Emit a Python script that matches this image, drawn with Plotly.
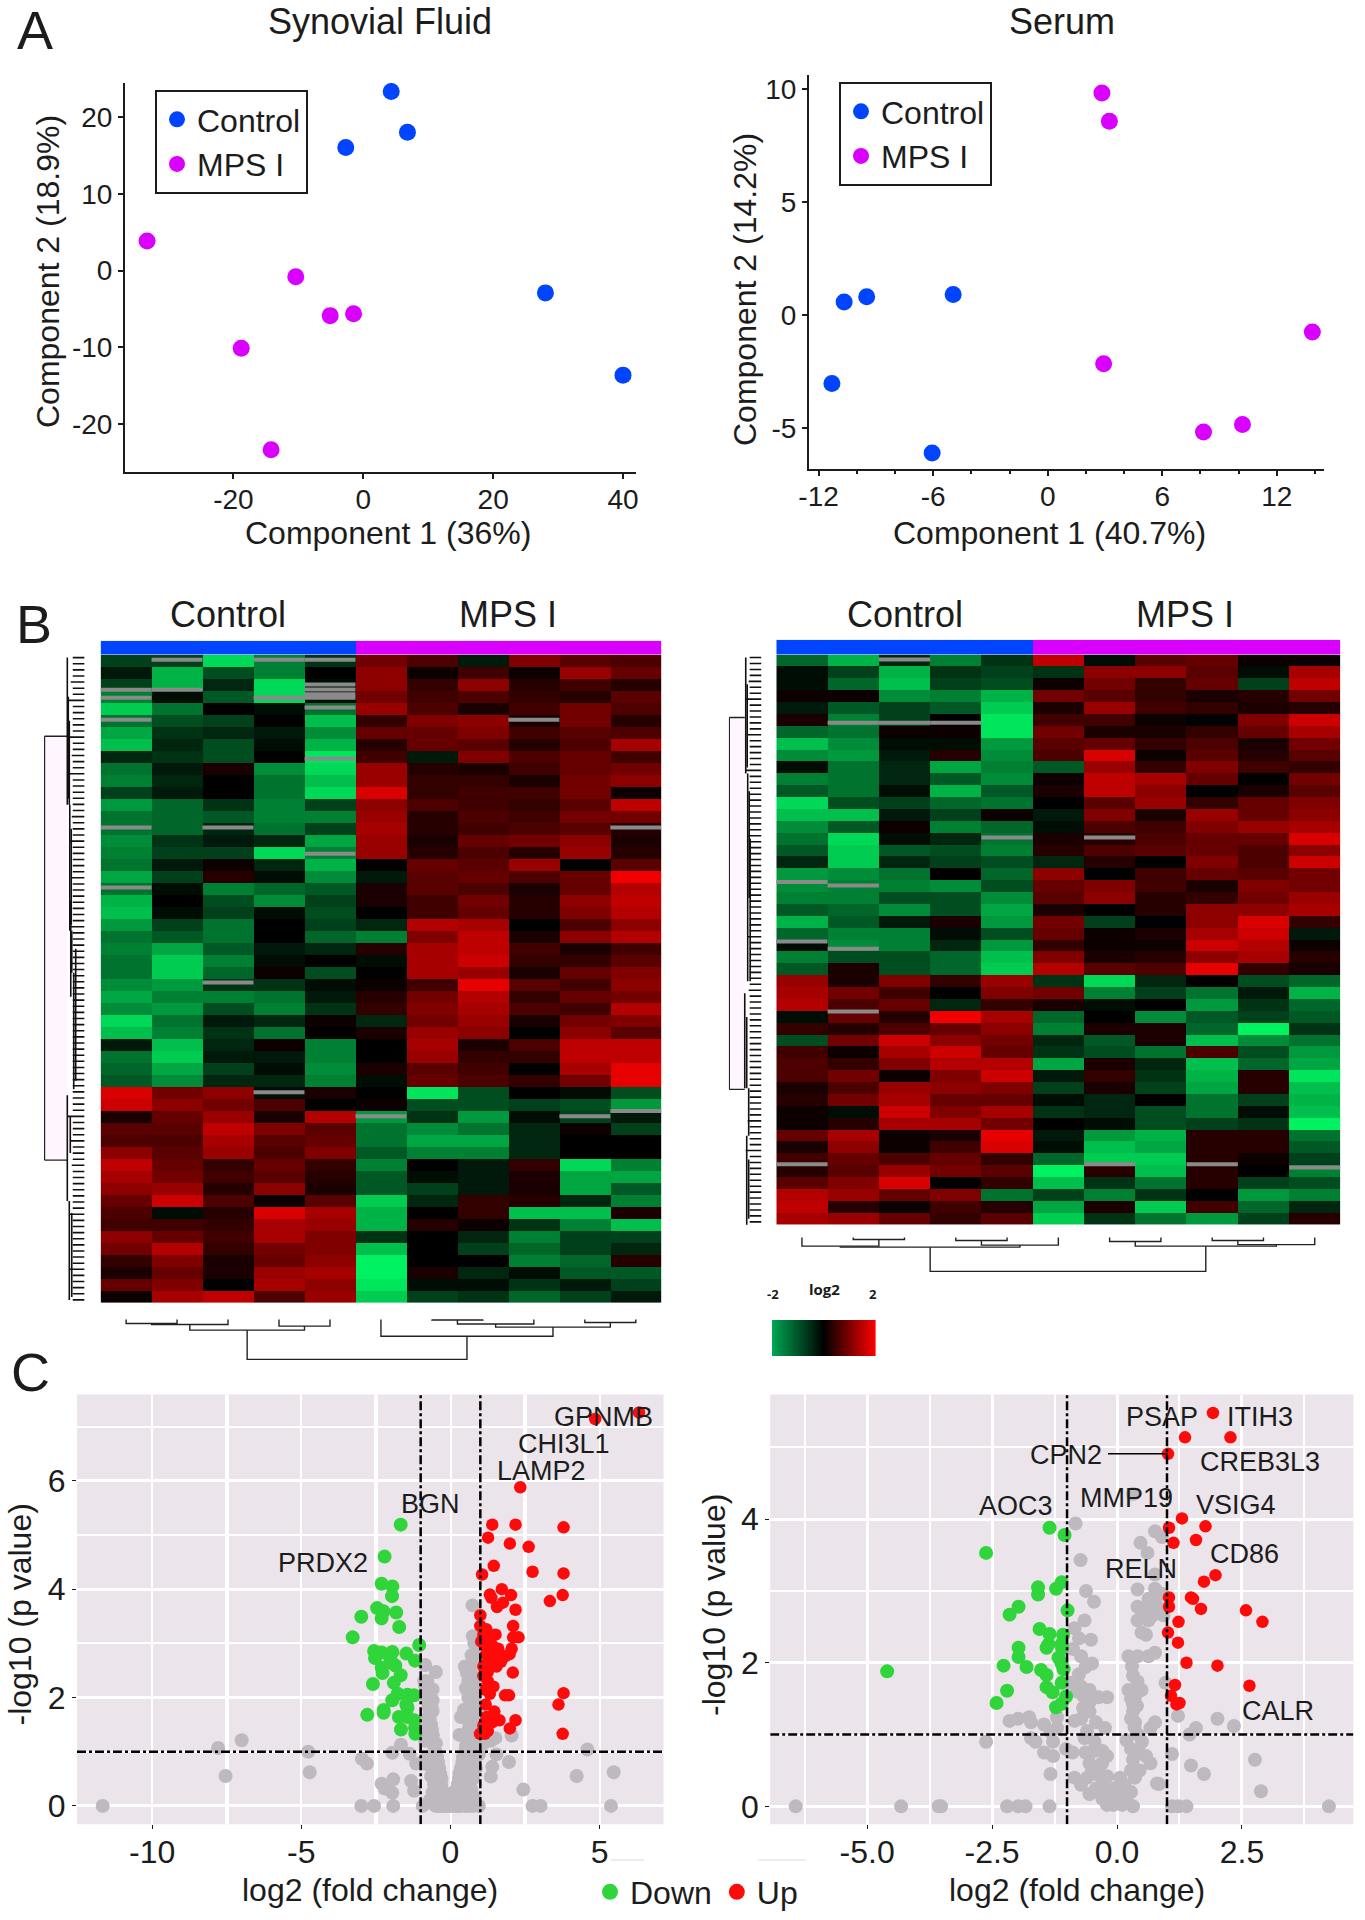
import plotly.graph_objects as go

W, H = 1365, 1920
FONT = "Liberation Sans"
INK = "#1c1c1c"
BLUE, MAG = "#0044FF", "#D900FF"
GREEN, RED, GREY = "#2FD53A", "#FF0A0A", "#BDB9BF"

# ---------- A: PCA ----------
sf_control_x = [4.3, 6.8, -2.7, 28.05, 40.0]
sf_control_y = [23.3, 18.0, 16.0, -2.9, -13.6]
sf_mps_x = [-33.3, -10.4, -5.1, -1.5, -18.8, -14.2]
sf_mps_y = [3.86, -0.8, -5.86, -5.63, -10.1, -23.3]
se_control_x = [-4.95, -9.48, -10.66, -11.3, -6.05]
se_control_y = [0.92, 0.82, 0.59, -3.02, -6.09]
se_mps_x = [2.84, 3.23, 2.93, 13.86, 10.2, 8.16]
se_mps_y = [9.83, 8.58, -2.14, -0.74, -4.83, -5.16]

# ---------- B: heatmaps (log2, 11 samples per row) ----------
heat_left = [
[-.5,-.5,-1.7,-1.0,-.4,.9,.6,-.2,1.0,.7,.6],
[-.2,-1.4,-.6,-1.0,.0,1.1,.1,.5,.1,1.2,.8],
[-.5,-1.4,-.3,-1.7,-.1,1.1,.4,1.1,.3,.5,.3],
[-1.0,-.1,-.7,-1.7,-.1,.9,.5,.6,.4,.3,.7],
[-1.6,-.9,.0,-.1,-.9,1.2,.6,.2,.5,.9,.6],
[-.9,-.6,-.5,.0,-1.5,.4,1.0,1.1,.2,.9,.3],
[-1.3,-.4,-.3,-.2,-1.1,.8,.8,1.0,.5,.7,.6],
[-1.5,-.3,-.6,-.1,-1.4,.3,.8,.7,.3,.6,1.3],
[-.3,-.4,-.6,.0,-1.8,.5,-.2,1.0,.6,.8,.5],
[-.9,-.2,.2,-1.1,-1.7,1.2,.3,.2,.5,.8,.9],
[-1.0,-.3,.0,-.9,-1.5,1.2,.4,.4,.2,.9,1.1],
[-.5,-.2,.0,-.9,-1.7,1.7,.4,.5,.5,.9,.1],
[-1.2,-.8,-.4,-1.0,-.5,1.1,.6,.5,.4,.7,1.5],
[-.9,-.8,-.7,-1.0,-1.0,1.2,.3,.6,.5,.9,.9],
[-.9,-.8,-.3,-.9,-.5,1.3,.3,.5,.6,.7,.3],
[-1.1,-.4,-.2,-.3,-1.3,1.2,.2,.8,.9,1.1,.2],
[-1.0,-.5,-.5,-1.7,-1.0,1.2,.3,.6,.3,1.2,.3],
[-.9,-.2,.1,-.3,-1.4,.0,.8,.7,1.2,.0,.7],
[-1.3,-.5,.3,-.1,-1.1,-.2,.7,.8,.6,.8,1.9],
[-.9,-.1,-1.0,-.8,-.7,.2,.7,.6,.2,.8,1.4],
[-1.4,.0,-.6,-1.1,-.5,.2,.5,.9,.3,1.1,1.5],
[-1.5,-.1,-.5,-.1,-.6,.0,.5,.8,.3,1.0,1.4],
[-1.2,-.5,-.9,.0,-.5,-.3,1.4,1.3,.0,.6,1.1],
[-.9,-.7,-.9,.0,-.8,-1.0,1.0,1.5,.2,1.1,1.4],
[-1.0,-1.3,-.7,-.2,-.3,.3,1.3,1.5,.5,.2,.5],
[-.9,-1.6,-1.0,-.1,.0,-.1,1.3,1.6,.4,.4,.7],
[-.9,-1.6,-.8,.1,-.6,.0,1.3,1.2,.2,.8,1.0],
[-1.1,-1.2,-.4,-.4,-.1,.1,.5,1.8,.7,.5,1.1],
[-1.3,-1.0,-1.0,-.9,-.2,.3,.9,1.4,.4,.8,.9],
[-1.1,-1.2,-.6,-1.0,-.4,.4,1.0,1.3,.6,.5,1.4],
[-1.7,-.9,-.2,-.3,.1,-.3,.9,1.2,.2,.9,1.0],
[-1.5,-1.0,-.4,-.9,.0,.2,1.2,1.1,.0,1.1,.7],
[-.2,-1.5,-.3,.1,-1.0,.0,1.3,.2,.6,1.5,1.5],
[-.9,-1.6,-.2,-.2,-1.0,.0,1.2,.4,.4,1.5,1.5],
[-.8,-1.3,-.5,-.1,-1.1,.2,.7,.5,.0,1.3,1.8],
[-.7,-1.1,-.3,-.3,-1.0,-.1,.8,.6,.4,.9,1.8],
[1.7,.9,1.1,-.1,.2,.0,-1.8,-.6,.0,-.1,-.6],
[1.6,1.1,.9,.6,.0,.1,-.6,-.6,-.5,-.6,-1.2],
[.2,.8,1.2,.2,1.4,-1.2,-.4,-1.2,-.1,-.5,-.2],
[.7,.7,1.5,1.0,.7,-.9,-1.1,-.9,-.3,.1,-.5],
[.6,.6,1.3,.7,.8,-.9,-1.3,-1.3,-.3,.0,.0],
[1.1,.7,1.2,.6,1.0,-.7,-1.0,-1.0,-.3,.0,.0],
[1.5,.8,.4,.8,.4,-1.0,.0,-.2,.4,-1.7,-1.0],
[1.3,.9,.5,.7,.3,-.7,-.1,-.2,.2,-1.3,-1.3],
[1.1,1.2,.3,1.1,.2,-.7,-.5,-.2,.2,-1.3,-.7],
[.8,1.6,.6,.1,.7,-1.6,-.3,.4,.3,-.3,-1.0],
[.6,-.1,.3,1.7,1.3,-1.4,.0,.4,-1.5,-1.5,.2],
[.5,.5,.4,1.3,1.2,-1.4,.3,.1,-.4,-1.0,-1.5],
[1.1,.8,.5,1.3,1.0,-.4,.0,-.3,-1.0,-.5,-.5],
[.9,1.4,.4,.9,1.0,-1.5,.0,-.5,-.8,-.5,-.3],
[.4,1.0,.2,.8,1.1,-1.9,.0,.0,-1.0,-.8,.3],
[.2,.8,.2,1.2,1.3,-1.9,.2,-.3,-.1,-.7,-.7],
[.8,1.0,.0,1.3,1.1,-1.8,-.1,-.1,-.4,-.2,-.5],
[.1,1.3,1.5,.6,1.2,-1.6,-.5,-.4,-.8,-.5,-.2],
]
heat_right = [
[-.8,-1.4,-.3,-1.0,-.4,1.5,-.1,.7,.8,.1,.1],
[-.1,-.5,-1.4,-.4,-.5,-.4,1.1,1.1,.7,-.1,1.3],
[-.1,-.8,-1.5,-.5,-.6,.1,.9,.4,.8,-.5,1.5],
[.1,.1,-1.1,-1.0,-1.4,.9,.7,.4,.2,.3,.9],
[-.2,-.7,-.5,-.7,-1.6,.2,1.2,.5,.4,.2,.3],
[.2,-1.0,-.5,.0,-1.8,.5,.5,.1,.0,1.0,1.6],
[-.8,-.9,.1,.1,-1.8,.9,.2,.2,.4,.8,1.3],
[-1.5,-1.1,-.1,-.1,-1.2,.7,.8,.4,.6,.2,.9],
[-1.1,-1.2,-.2,.3,-1.1,.6,1.7,.1,.7,.3,.7],
[-.1,-.9,-.3,-1.3,-1.0,-.7,1.2,.4,1.0,.5,.4],
[-1.0,-.9,-.3,-.7,-1.1,.1,1.5,1.3,.8,.0,.9],
[-.7,-.9,-.1,-1.4,-.7,.2,1.5,1.1,.0,.2,.7],
[-1.7,-.6,-.5,-.8,-.9,.0,.7,1.2,.4,.8,1.0],
[-1.5,-1.5,-.2,-.5,.1,-.2,1.0,.2,1.2,.8,1.1],
[-1.1,-.7,.1,-1.0,-.8,-.1,.6,.5,1.0,1.2,1.3],
[-.9,-1.7,-.1,-.3,-.9,.2,.3,.6,.8,.8,1.7],
[-.7,-1.6,-.7,-.6,-1.0,.3,.6,.7,.8,.6,1.1],
[-.3,-1.6,-.3,-.5,-.6,-.3,.3,.0,1.0,.6,1.6],
[-1.2,-1.1,-.9,.0,-.8,1.1,.0,.5,.8,.7,.9],
[-1.1,-1.0,-1.0,-1.1,-.6,.8,1.0,.5,.2,1.0,.9],
[-1.0,-1.0,-.6,-.6,-1.1,.7,1.1,.3,.4,.9,1.2],
[-.7,-.8,-1.1,-.6,-1.3,.2,.0,.3,1.1,1.1,1.3],
[-1.4,-.7,-.2,.2,-1.2,.9,-.5,.0,1.1,1.7,.4],
[-.8,-1.0,-1.0,-.1,-.6,.8,.1,.2,1.3,1.6,-.2],
[-.1,-1.1,-1.0,-.3,-1.2,.4,.1,.1,1.6,1.4,.1],
[-1.0,-.6,-.6,-.8,-1.5,1.0,.2,.3,1.1,1.3,.3],
[-.7,.2,-.6,-.8,-1.6,1.4,.7,.6,1.8,.4,.2],
[1.2,.2,1.0,.4,1.2,-.4,-1.7,-.3,.0,-.6,-.8],
[1.3,.9,.5,.0,1.0,.9,-1.0,-.5,-.9,-.2,-1.4],
[1.4,.6,.8,-.3,.4,.2,-.1,.0,-1.2,-.4,-.8],
[-.1,.8,.3,1.9,1.3,-.8,.0,-1.1,-.7,-.5,-.7],
[.4,.3,.6,.8,1.1,-1.0,.2,.2,-.8,-1.9,-.4],
[-.6,.9,1.6,1.1,.9,-.3,-.7,.2,-1.5,-1.1,-.9],
[.5,.1,1.3,1.6,.8,-.4,-.6,-.9,.6,-.6,-1.2],
[.6,.4,1.0,1.4,1.4,-1.3,.2,-.3,-1.5,-.8,-1.3],
[.6,.9,.1,1.0,1.6,-.2,.4,-.4,-1.4,.3,-1.8],
[.2,.6,1.2,1.1,1.0,-.5,.2,-.5,-1.3,.3,-1.5],
[.3,.9,1.3,.8,.8,-.1,-.3,.0,-.9,-.5,-1.4],
[.1,-.1,1.6,1.0,1.3,-.4,-.3,-.6,-.9,-.1,-1.5],
[.1,.3,1.3,1.3,.9,.0,-.1,-.6,-.5,-.4,-1.9],
[.8,1.3,.1,.2,1.8,-.2,-1.2,-1.4,.3,.3,-.9],
[.2,1.1,.1,.5,1.7,-.1,-1.5,-1.3,.3,.3,-.7],
[.5,.8,.6,.8,.4,-.8,-1.6,-1.6,.3,.1,-.5],
[.3,.7,1.2,.9,.7,-1.9,.3,-1.5,.3,.0,-1.0],
[.7,1.0,1.7,.0,.4,-1.5,-.4,-.9,.3,-.5,-.6],
[1.4,1.2,.8,1.0,-.9,-.5,-1.0,-.4,.0,-1.2,-1.0],
[1.5,.3,.1,.5,.3,-1.3,.2,-1.6,.5,-.8,-.3],
[1.3,1.2,.8,.4,.7,-1.6,-.4,-.9,-1.2,-.5,.3],
]
# missing cells (grey): sample column, row position
miss_left_col = [1,3,4,0,1,4,4,4,4,0,3,4,0,8,4,0,2,10,4,0,2,3,5,9,10]
miss_left_row = [-.08,-.08,-.08,2.42,2.42,2.0,2.4,2.8,3.1,3.1,3.1,3.9,4.92,4.92,8.17,13.9,13.9,13.9,16.08,18.89,26.8,35.94,37.94,37.94,37.5]
miss_right_col = [2,1,2,3,4,6,0,1,0,1,1,0,6,8,10]
miss_right_row = [-.08,5.23,5.23,5.23,14.9,14.9,18.65,18.93,23.65,24.26,29.54,42.4,42.4,42.4,42.68]
group_bar = [0,0,0,0,0,1,1,1,1,1,1]
log2_scale = [-2,-1.5,-1,-.5,0,.5,1,1.5,2]

# column dendrograms: (left, right, height); integers are leaves, strings are nodes
col_left = {"a":(0,1,8),"b":("a",2,10),"c":(3,4,13),"ctrl":("b","c",21),
            "m1":(6,7,1),"m2":("m1",8,9),"m3":(9,10,6),"m4":("m2","m3",15),"m5":(5,"m4",33),
            "root":("ctrl","m5",79)}
col_right = {"n1":(1,2,4),"n2":(0,"n1",17),"n3":(3,4,6),"n4":("n3",5,15),"n5":("n2","n4",19),
             "m1":(6,7,8),"m2":(8,9,6),"m3":("m2",10,14),"m4":("m1","m3",17),"root":("n5","m4",67)}
# row dendrograms: leaf stem lengths and spines (row from, row to, distance)
stems_left = [8,5,11,7,14,6,9,17,5,12,8,6,10,15,7,5,13,9,6,17,8,11,5,7,
              10,6,13,8,5,9,15,7,11,6,8,5,14,9,6,12,7,5,10,8,15,
              6,9,5,11,7,13,6,
              8,5,10,6,11,7,9,5,8,11,6,9,5,7,10,6,8,11,
              9,6,12,5,8,17,7,5,10,14,6,9,5,13,7,11,8,6,
              7,5,10,15,6,9,5,12,7,8,5,11,15,6,9,5,7,10]
spine_left = [(-.25,12,17.5),(12,22.5,15),(22.5,26,13),(26,35.7,11),(36.2,45,17.5),(45,53.25,15.5),
              (3,11.5,16.5),(38,41,14.5),(6.3,6.3,17.5),(20,28,14),(41.6,41.6,17.5),(5,12,15.5),(14,22,13.5),(24,35,9),(46,53,13)]
root_left = (6.3,41.6,40.6)
stems_right = [7,4,10,6,13,5,8,16,4,11,7,5,9,14,6,4,12,8,5,16,7,10,4,6,
               9,5,12,7,4,8,14,6,10,5,7,4,11,8,5,9,6,4,8,5,
               7,4,10,14,5,8,4,11,6,7,4,9,13,5,8,4,10,6,7,12,4,8,5,9,
               6,4,8,12,5,7,4,10,6,9,14,5,7,4,8,16,5,9,4,7,6,10,4,8,5,7,4,6]
spine_right = [(-.25,9.5,16),(9.5,27,14),(15,27,11.5),(28,36,17),(40,47.75,15),(36,40,13),
               (4.8,4.8,16),(36.1,36.1,17),(2,9,14.5),(11,20,12.5),(30,36,15),(42,47,13)]
root_right = (4.8,36.1,32.7)

# ---------- C: volcano plots (log2 FC, -log10 p) ----------
vl_up = [(4.85,7.14),(6.32,7.26),(2.34,5.88),(1.4,5.19),(2.18,5.19),(3.79,5.14),(1.26,4.95),(1.99,4.84),(2.62,4.78),
 (1.45,4.43),(1.06,4.27),(2.75,4.32),(3.79,4.29),(1.32,3.9),(1.72,4.0),(2.03,3.89),(1.37,3.84),(3.76,3.89),(3.33,3.78),
 (1.76,3.75),(1.56,3.67),(2.18,3.62),(1.0,3.52),(2.1,3.32),(1.0,3.32),(1.2,3.26),(1.51,3.16),(2.1,3.11),(2.28,3.11),
 (1.1,3.16),(1.29,3.06),(1.03,3.03),(1.18,2.96),(1.4,2.96),(2.05,2.9),(1.32,2.86),(1.61,2.8),(1.98,2.8),(1.83,2.76),
 (1.47,2.73),(1.69,2.66),(1.25,2.66),(1.1,2.57),(1.54,2.57),(2.09,2.46),(1.25,2.47),(1.1,2.4),(1.25,2.3),(1.44,2.2),
 (1.18,2.14),(1.32,2.07),(1.83,2.04),(1.96,2.04),(3.79,2.08),(3.62,1.87),(1.18,1.87),(1.47,1.74),(1.2,1.64),(2.18,1.58),
 (1.64,1.58),(1.4,1.54),(1.99,1.43),(1.1,1.48),(1.25,1.38),(.99,1.33),(3.76,1.33),(1.15,1.33),(1.3,2.6),(1.6,2.9),(1.2,2.8)]
vl_down = [(-1.67,5.19),(-2.21,4.6),(-2.31,4.1),(-1.95,4.05),(-1.96,3.87),(-2.46,3.65),(-2.24,3.59),(-1.82,3.57),(-2.99,3.49),
 (-2.31,3.46),(-1.72,3.3),(-3.28,3.11),(-1.05,2.97),(-2.56,2.86),(-2.31,2.83),(-1.95,2.84),(-1.48,2.81),(-2.53,2.73),
 (-2.02,2.73),(-1.19,2.68),(-1.95,2.63),(-1.85,2.59),(-2.31,2.55),(-2.28,2.45),(-1.67,2.41),(-2.6,2.25),(-1.9,2.27),
 (-1.77,2.07),(-1.44,2.05),(-1.22,2.04),(-1.95,1.95),(-1.48,1.87),(-2.24,1.77),(-1.44,1.81),(-2.24,1.72),(-2.79,1.68),
 (-1.73,1.64),(-1.44,1.64),(-1.22,1.58),(-1.66,1.41),(-1.19,1.44),(-1.18,1.33)]
vl_grey = [(-11.66,0),(-7.54,.55),(-7.79,1.07),(-7.0,1.21),(-4.77,1.0),(-4.72,.62),(-2.99,0),(-2.56,0),(-1.92,0),(-2.97,.87),
 (-2.8,.78),(-2.31,.41),(-1.92,.49),(-2.21,.32),(-1.95,.24),(-1.95,.98),(-1.66,1.13),(-1.37,.96),(-1.32,.46),(-1.22,.28),
 (2.44,.3),(2.75,0),(3.02,0),(5.38,0),(5.47,.62),(4.23,.55),(4.59,1.04),(1.96,.81),(2.05,1.3),(1.4,.72),(1.35,.54),(1.54,.95),
 (.74,0),(-.05,0),(-.15,.05),(-.2,.12),(-.25,.2),(-.28,.3),(-.32,.4),(-.3,.5),(-.35,.6),(-.38,.7),(-.42,.8),(-.45,.9),(-.5,1.0),
 (-.55,1.1),(-.6,1.2),(-.6,1.3),(-.62,1.4),(-.65,1.5),(-.7,1.6),(-.68,1.7),(-.72,1.8),(-.75,1.9),(-.8,2.0),(-.82,2.1),(-.85,2.2),
 (-.88,2.3),(-.85,2.6),(-.49,2.47),(-.78,2.3),(-.78,2.04),(-.64,1.85),(-.71,1.64),(-.6,1.31),(-.49,1.15),(-.93,0),(-1.15,.78),
 (-.93,.78),(-.85,1.2),(-.8,.9),(-.7,.75),(-.65,.55),(-.55,.4),(-.6,.25),(-.7,.1),(-.45,.08),
 (-.6,1.75),(-.6,1.95),(-.6,2.15),(-.7,2.0),(-.65,1.3),(-.8,1.4),(-.85,1.6),(-.55,.9),(-.6,.7),
 (.05,0),(.15,0),(.25,0),(.35,0),(.5,0),(.6,0),(-.3,0),(-.4,0),(-.5,0),(-.2,0),(-.1,0),(.1,.1),(-.1,.1),(.2,.15),(-.25,.1),(.3,.1),
 (-.35,.15),(.12,.25),(-.3,.25),(.35,.2),(.2,.3),(-.35,.32),(.25,.4),(-.38,.42),(.28,.5),(.4,.45),(-.4,.52),(-.5,.55),(.3,.6),(.45,.6),
 (.35,.7),(.5,.7),(.4,.8),(.55,.8),(.42,.9),(.6,.95),(.5,1.0),(.65,1.05),(.52,1.1),(.55,1.2),(.7,1.2),(.55,1.3),(.72,1.35),(.6,1.4),
 (.75,1.5),(.62,1.55),(.78,1.6),(.65,1.7),(.8,1.75),(.68,1.85),(.8,1.95),(.6,2.0),(.85,2.05),(.55,2.15),(.85,2.2),(.6,2.3),(.82,2.35),
 (.55,2.45),(.6,2.55),(.75,2.65),(.85,2.8),(.8,3.0),(.75,3.13),(.85,3.1),(.74,3.7),(.48,2.57),(.35,1.64),(.3,1.31),(.45,1.77),
 (.71,2.78),(.81,2.66),(.52,2.17),(.74,1.97),(.9,1.2),(1.2,1.25),(1.5,1.25),(1.35,1.2),(1.1,1.15),(.95,.95),(.85,.7),(.75,.5),(.7,.3),(.8,.15),(.95,0),
 (.7,.85),(.8,1.05),(.85,1.3),(.9,1.5),(.88,1.8),(.7,2.2),(.7,2.45),(.7,1.1),(.65,.65),(.6,.3),(.45,.2)]
vr_up = [(1.92,5.48),(1.02,4.91),(1.36,5.14),(2.27,5.14),(1.3,4.01),(1.04,3.88),(1.77,3.9),(1.58,3.71),(1.13,3.67),(1.97,3.22),
 (1.74,3.13),(1.04,2.91),(1.48,2.91),(1.52,2.89),(1.04,2.78),(1.68,2.75),(2.58,2.73),(2.91,2.57),(1.23,2.57),(1.02,2.42),
 (1.22,2.28),(1.39,2.0),(2.01,1.96),(1.16,1.69),(2.65,1.68),(1.08,1.54),(1.25,1.44),(1.19,1.42)]
vr_down = [(-1.35,3.88),(-1.05,3.78),(-2.62,3.53),(-1.11,3.12),(-1.22,3.03),(-1.58,3.05),(-1.58,2.95),(-1.97,2.78),(-.99,2.73),
 (-2.15,2.67),(-1.55,2.47),(-1.35,2.4),(-1.08,2.39),(-1.37,2.26),(-1.11,2.26),(-1.41,2.21),(-1.1,2.2),(-1.97,2.21),(-1.97,2.08),
 (-1.17,2.07),(-1.11,1.99),(-2.27,1.96),(-1.81,1.94),(-1.07,1.91),(-1.52,1.9),(-1.41,1.83),(-4.6,1.88),(-1.11,1.72),(-1.41,1.66),
 (-1.29,1.59),(-2.2,1.61),(-1.02,1.53),(-1.11,1.43),(-1.22,1.38),(-2.41,1.44)]
vr_grey = [(-6.43,0),(-4.32,0),(-3.57,0),(-3.52,0),(-2.2,0),(-1.98,0),(-1.83,0),(-1.35,0),(1.1,0),(1.23,0),(1.39,0),(4.24,0),
 (2.88,.21),(2.76,.65),(1.74,.45),(1.48,.57),(1.1,.73),(2.34,1.12),(2.01,1.22),(1.58,1.09),(1.45,1.0),(1.22,1.26),(.97,1.72),(-2.62,.9),
 (-.83,3.94),(.76,3.83),(.9,3.75),(.47,3.67),(.61,3.53),(-.73,3.43),(.32,4.35),(.76,3.23),(.41,3.02),(.76,3.03),(-.62,3.0),(-.46,2.85),
 (.41,2.78),(.63,2.89),(.71,2.84),(.89,2.96),(.8,2.79),(.93,2.66),(.41,2.59),(.63,2.59),(-.65,2.59),(.49,2.42),(.58,2.39),(-.85,2.48),
 (-.52,2.32),(-.76,2.34),(-.88,2.19),(.23,2.09),(.41,2.09),(.63,2.09),(.76,2.14),(-.72,2.09),(-.5,1.99),(-.63,1.94),(.32,1.82),(.41,1.74),
 (-.76,1.84),(-.94,1.72),(-.72,1.67),(-.55,1.62),(.23,1.62),(.49,1.62),(.36,1.52),(-.37,1.52),(-.2,1.52),(-.68,1.54),(.32,1.42),(-.68,1.37),
 (.32,1.32),(-.55,1.32),(.28,1.22),(-.72,1.22),(-.85,1.19),(-.42,1.17),(.36,1.17),(.76,1.17),(.67,1.09),(-2.15,1.19),(-1.98,1.22),(-1.76,1.24),
 (-1.72,1.17),(-1.46,1.14),(-1.2,1.24),(-1.33,1.04),(-1.2,1.09),(-1.72,.95),(-1.63,.9),(-1.28,.9),(-1.46,.75),(-1.28,.7),(-1.02,.8),(-.89,.75),
 (-.63,.75),(-.46,.77),(-.24,1.09),(-.29,.77),(-.2,.7),(.19,.92),(.28,.8),(.45,.75),(.58,.7),(.32,.65),(.67,.6),(-.55,.6),(-.37,.55),(-1.33,.45),
 (-.85,.4),(-.72,.3),(-.55,.17),(-.42,.25),(-.2,.42),(-.07,.25),(.06,.4),(.15,.3),(.28,.5),(.45,.5),(.02,.05),(-.07,.02),(.19,.07),(.32,0),
 (-.29,.1),(.8,.32),(.84,.31),(-.42,.45),(.1,.2),(-.6,.4),(-.5,.5),(-.3,.3),(-.15,.15),(.05,.15),(-.05,.1),(.1,.02),(-.2,.02),(-.38,.2),(.28,.2),
 (.36,.4),(-.3,.6),(-.45,.9),(.42,1.0),(.5,.9),(.35,1.1),(-.6,1.05),(-.65,.95),(.28,1.5),(.4,1.4),(-.55,1.45),(-.8,1.6),(.3,1.95),(.5,2.7),(.7,2.65),(.6,2.75)]
vl_labels = [("GPNMB",5.13,7.18),("CHI3L1",3.79,6.68),("LAMP2",3.04,6.18),("BGN",-.68,5.57),("PRDX2",-4.26,4.49)]
vr_labels = [("PSAP",.89,5.42),("ITIH3",2.86,5.43),("CPN2",-1.02,4.9),("CREB3L3",2.86,4.8),("MMP19",.19,4.3),
             ("VSIG4",2.39,4.2),("AOC3",-2.02,4.19),("CD86",2.56,3.52),("RELN",.48,3.31),("CALR",3.23,1.33)]
cpn2_line_x = [-.18, 1.02]
cpn2_line_y = [4.91, 4.91]

fig = go.Figure()
layout = dict(width=W, height=H, margin=dict(l=0, r=0, t=0, b=0, autoexpand=False), paper_bgcolor="white", plot_bgcolor="rgba(0,0,0,0)",
              font=dict(family=FONT, color=INK), showlegend=True, shapes=[], annotations=[])

def axes(n, x0, x1, y0, y1, xo, yo):
    layout[f"xaxis{n}"] = dict(domain=[x0/W, x1/W], anchor=f"y{n}", **xo)
    layout[f"yaxis{n}"] = dict(domain=[1-y1/H, 1-y0/H], anchor=f"x{n}", **yo)

def hidden(r):
    return dict(visible=False, range=r, showgrid=False, zeroline=False, fixedrange=True)

def text(x, y, s, size, angle=0, **kw):
    layout["annotations"].append(dict(x=x/W, y=1-y/H, xref="paper", yref="paper", text=s, showarrow=False,
        textangle=angle, font=dict(size=size, family=FONT, color=INK), xanchor="center", yanchor="middle", **kw))

def pca_axis(rng, vals, labels, minor=None, standoff=0):
    d = dict(range=rng, tickvals=vals, ticktext=labels, ticks="outside", ticklen=5, tickwidth=1.5, tickcolor=INK,
             showline=True, linecolor=INK, linewidth=2, showgrid=False, zeroline=False, tickfont=dict(size=28, color=INK),
             ticklabelstandoff=standoff)
    if minor: d["minor"] = minor
    return d

# A
axes("", 125, 636, 83, 472, pca_axis([-36.7,42.0],[-20,0,20,40],["-20","0","20","40"], standoff=-4),
     pca_axis([-26.2,24.4],[-20,-10,0,10,20],["-20","-10","0","10","20"]))
axes(2, 809, 1324, 75, 469, pca_axis([-12.5,14.47],[-12,-6,0,6,12],["-12","-6","0","6","12"],
     dict(ticks="outside", dtick=2, ticklen=3, tickcolor=INK), standoff=-4),
     pca_axis([-6.8,10.63],[-5,0,5,10],["-5","0","5","10"]))
for name, col, xs, ys, ax, lg in [("Control",BLUE,sf_control_x,sf_control_y,("x","y"),"legend"),
                                  ("MPS I",MAG,sf_mps_x,sf_mps_y,("x","y"),"legend"),
                                  ("Control",BLUE,se_control_x,se_control_y,("x2","y2"),"legend2"),
                                  ("MPS I",MAG,se_mps_x,se_mps_y,("x2","y2"),"legend2")]:
    fig.add_trace(go.Scatter(x=xs, y=ys, mode="markers", name=name, xaxis=ax[0], yaxis=ax[1], legend=lg,
                             marker=dict(color=col, size=17, line=dict(width=0))))
box = dict(bgcolor="white", bordercolor=INK, borderwidth=2, font=dict(size=32, color=INK, family=FONT),
           xanchor="left", yanchor="top", tracegroupgap=0, itemclick=False, itemdoubleclick=False)
layout["legend"] = dict(x=155/W, y=1-90/H, **box)
layout["legend2"] = dict(x=839/W, y=1-82/H, **box)

# B
heat_scale = [[0,"#00FF66"],[.5,"#000000"],[1,"#FF0000"]]
bar_scale = [[0,BLUE],[1,MAG]]

def dendro_cols(tree, leaf_h=0):
    xs, ys = [], []
    pos = {}
    def place(k):
        if isinstance(k, int): return k, leaf_h
        if k in pos: return pos[k]
        a, b, h = tree[k]
        xa, ha = place(a); xb, hb = place(b)
        xs.extend([xa, xa, xb, xb, None]); ys.extend([ha, h, h, hb, None])
        pos[k] = ((xa+xb)/2, h)
        return pos[k]
    place("root")
    return xs, ys

def heat_panel(start, hx0, hx1, hy0, hy1, bar0, z, mc, mr, tree, den0, den1, dmax, stems, spine, root, rx0, rx1):
    nrow = len(z)
    xr = hidden([-.5, 10.5])
    yr = hidden([nrow-.5, -.5])
    axes(start, hx0, hx1, hy0, hy1, xr, yr)
    fig.add_trace(go.Heatmap(z=z, xaxis=f"x{start}", yaxis=f"y{start}", colorscale=heat_scale, zmin=-2, zmax=2,
                             showscale=False, showlegend=False))
    mx, my = [], []
    for c, r in zip(mc, mr):
        mx.extend([c-.5, c+.5, None]); my.extend([r, r, None])
    fig.add_trace(go.Scatter(x=mx, y=my, mode="lines", line=dict(color="#8A8A8A", width=4), xaxis=f"x{start}",
                             yaxis=f"y{start}", showlegend=False))
    axes(start+1, hx0, hx1, bar0, hy0, xr, hidden([-.5, .5]))
    fig.add_trace(go.Heatmap(z=[group_bar], xaxis=f"x{start+1}", yaxis=f"y{start+1}", colorscale=bar_scale, zmin=0, zmax=1,
                             showscale=False, showlegend=False))
    axes(start+2, hx0, hx1, den0, den1, xr, hidden([dmax+1, -1]))
    dx, dy = dendro_cols(tree)
    fig.add_trace(go.Scatter(x=dx, y=dy, mode="lines", line=dict(color="#222222", width=1.4), xaxis=f"x{start+2}",
                             yaxis=f"y{start+2}", showlegend=False))
    r0, r1, d = root
    axes(start+3, rx0, rx1, hy0, hy1, hidden([d+.5, 0]), yr)
    join = max(s[2] for s in spine)
    fig.add_trace(go.Scatter(x=[d, join, join, d, d], y=[r0, r0, r1, r1, r0], mode="lines", fill="toself", fillcolor="#FFF6FF",
                             line=dict(width=0), xaxis=f"x{start+3}", yaxis=f"y{start+3}", showlegend=False))
    sx, sy = [d, d, None, d, join, None, d, join, None], [r0, r1, None, r0, r0, None, r1, r1, None]
    fig.add_trace(go.Scatter(x=sx, y=sy, mode="lines", line=dict(color="#222222", width=1.4), xaxis=f"x{start+3}",
                             yaxis=f"y{start+3}", showlegend=False))
    sx, sy = [], []
    for i, s in enumerate(stems):
        r = i/(len(stems)/nrow) - .25
        sx.extend([0, max(s, 12), None]); sy.extend([r, r, None])
    for a, b, c in spine:
        sx.extend([c, c, None]); sy.extend([a, b, None])
    fig.add_trace(go.Scatter(x=sx, y=sy, mode="lines", line=dict(color="#111111", width=1.6), xaxis=f"x{start+3}",
                             yaxis=f"y{start+3}", showlegend=False))

heat_panel(3, 100.6, 661.3, 654.6, 1303, 640.7, heat_left, miss_left_col, miss_left_row, col_left, 1319, 1360, 79,
           stems_left, spine_left, root_left, 44, 84.6)
heat_panel(7, 776.3, 1340.4, 654.6, 1224.8, 639.7, heat_right, miss_right_col, miss_right_row, col_right, 1237, 1272, 67,
           stems_right, spine_right, root_right, 728.8, 761.5)
axes(11, 772, 875.6, 1320, 1356, hidden([0, 8]), hidden([-.5, .5]))
fig.add_trace(go.Heatmap(z=[log2_scale], xaxis="x11", yaxis="y11", zsmooth="best", showscale=False, zmin=-2, zmax=2,
                         colorscale=[[0,"#00A651"],[.5,"#000000"],[1,"#FF0000"]], showlegend=False))

# C
def volcano(n, x0, x1, rx, ry, xt, xl, xminor, yt, yminor, up, down, grey, labels, w_major, w_minor):
    xo = dict(range=rx, tickvals=xt, ticktext=xl, ticks="outside", ticklen=4, tickcolor=INK, showgrid=True, gridcolor="white",
              gridwidth=w_major, zeroline=False, showline=False, tickfont=dict(size=32, color=INK), ticklabelstandoff=-5,
              minor=dict(tickvals=xminor, showgrid=True, gridcolor="white", gridwidth=w_minor, ticks=""))
    yo = dict(range=ry, tickvals=yt, ticktext=[str(v) for v in yt], ticks="outside", ticklen=4, tickcolor=INK, showgrid=True,
              gridcolor="white", gridwidth=2.5, zeroline=False, showline=False, tickfont=dict(size=32, color=INK),
              minor=dict(tickvals=yminor, showgrid=True, gridcolor="white", gridwidth=2, ticks=""))
    axes(n, x0, x1, 1394.6, 1824.3, xo, yo)
    layout["shapes"].append(dict(type="rect", xref=f"x{n} domain", yref=f"y{n} domain", x0=0, x1=1, y0=0, y1=1,
                                 fillcolor="#EBE5EB", line=dict(width=0), layer="below"))
    for pts, col, sz in [(grey, GREY, 14), (down, GREEN, 14), (up, RED, 12.5)]:
        fig.add_trace(go.Scatter(x=[p[0] for p in pts], y=[p[1] for p in pts], mode="markers", xaxis=f"x{n}", yaxis=f"y{n}",
                                 showlegend=False, marker=dict(color=col, size=sz, line=dict(width=0))))
    for xs, ys in [([-1,-1], ry), ([1,1], ry), (rx, [1,1])]:
        fig.add_trace(go.Scatter(x=xs, y=ys, mode="lines", xaxis=f"x{n}", yaxis=f"y{n}", showlegend=False,
                                 line=dict(color="black", width=2.5, dash="dashdot")))
    for s, x, y in labels:
        layout["annotations"].append(dict(x=x, y=y, xref=f"x{n}", yref=f"y{n}", text=s, showarrow=False,
                                          font=dict(size=27, family=FONT, color=INK)))

volcano(12, 77, 663.5, [-12.52,7.14], [-.34,7.59], [-10,-5,0,5], ["-10","-5","0","5"], [-7.5,-2.5,2.5],
        [0,2,4,6], [1,3,5,7], vl_up, vl_down, vl_grey, vl_labels, 1.5, 3.5)
volcano(13, 770.2, 1353.4, [-6.94,4.73], [-.25,5.735], [-5,-2.5,0,2.5], ["-5.0","-2.5","0.0","2.5"], [-6.25,-3.75,-1.25,1.25,3.75],
        [0,2,4], [1,3,5], vr_up, vr_down, vr_grey, vr_labels, 3, 1.5)
fig.add_trace(go.Scatter(x=cpn2_line_x, y=cpn2_line_y, mode="lines", xaxis="x13", yaxis="y13", showlegend=False,
                         line=dict(color="black", width=1.5)))
for nm, col in [("Down", GREEN), ("Up", RED)]:
    fig.add_trace(go.Scatter(x=[None], y=[None], mode="markers", name=nm, legend="legend3", xaxis="x12", yaxis="y12",
                             marker=dict(color=col, size=17)))
layout["legend3"] = dict(x=590/W, y=1-1892/H, orientation="h", xanchor="left", yanchor="middle", bgcolor="rgba(0,0,0,0)",
                         font=dict(size=32, color=INK, family=FONT), itemclick=False, itemdoubleclick=False)

# texts
text(35, 30, "A", 54); text(34, 624, "B", 54); text(30, 1372, "C", 54)
text(379.5, 21, "Synovial Fluid", 36); text(1062, 21, "Serum", 36)
text(388, 533, "Component 1 (36%)", 32); text(1049, 533, "Component 1 (40.7%)", 32)
text(48, 272, "Component 2 (18.9%)", 32, -90); text(745, 289, "Component 2 (14.2%)", 32, -90)
text(228.5, 614, "Control", 36); text(508, 614, "MPS I", 36)
text(905, 614, "Control", 36); text(1185, 614, "MPS I", 36)
layout["annotations"].extend([
    dict(x=773/W, y=1-1305/H, xref="paper", yref="paper", text="<b>-2</b>", showarrow=False, font=dict(size=13, family="Open Sans", color=INK)),
    dict(x=824/W, y=1-1301/H, xref="paper", yref="paper", text="<b>log2</b>", showarrow=False, font=dict(size=15, family="Open Sans", color=INK)),
    dict(x=873/W, y=1-1305/H, xref="paper", yref="paper", text="<b>2</b>", showarrow=False, font=dict(size=13, family="Open Sans", color=INK)),
])
text(369.5, 1890, "log2 (fold change)", 32); text(1077, 1890, "log2 (fold change)", 32)
text(19.5, 1615, "-log10 (p value)", 32, -90); text(714, 1605, "-log10 (p value)", 32, -90)
for a, b in [(611, 644), (758, 806)]:
    layout["shapes"].append(dict(type="line", xref="paper", yref="paper", x0=a/W, x1=b/W, y0=1-1860/H, y1=1-1860/H,
                                 line=dict(color="#EAE4EA", width=1.5)))

fig.update_layout(**layout)
fig.write_html("out.html", config={"displayModeBar": False}, post_script="document.body.style.margin='0';")
